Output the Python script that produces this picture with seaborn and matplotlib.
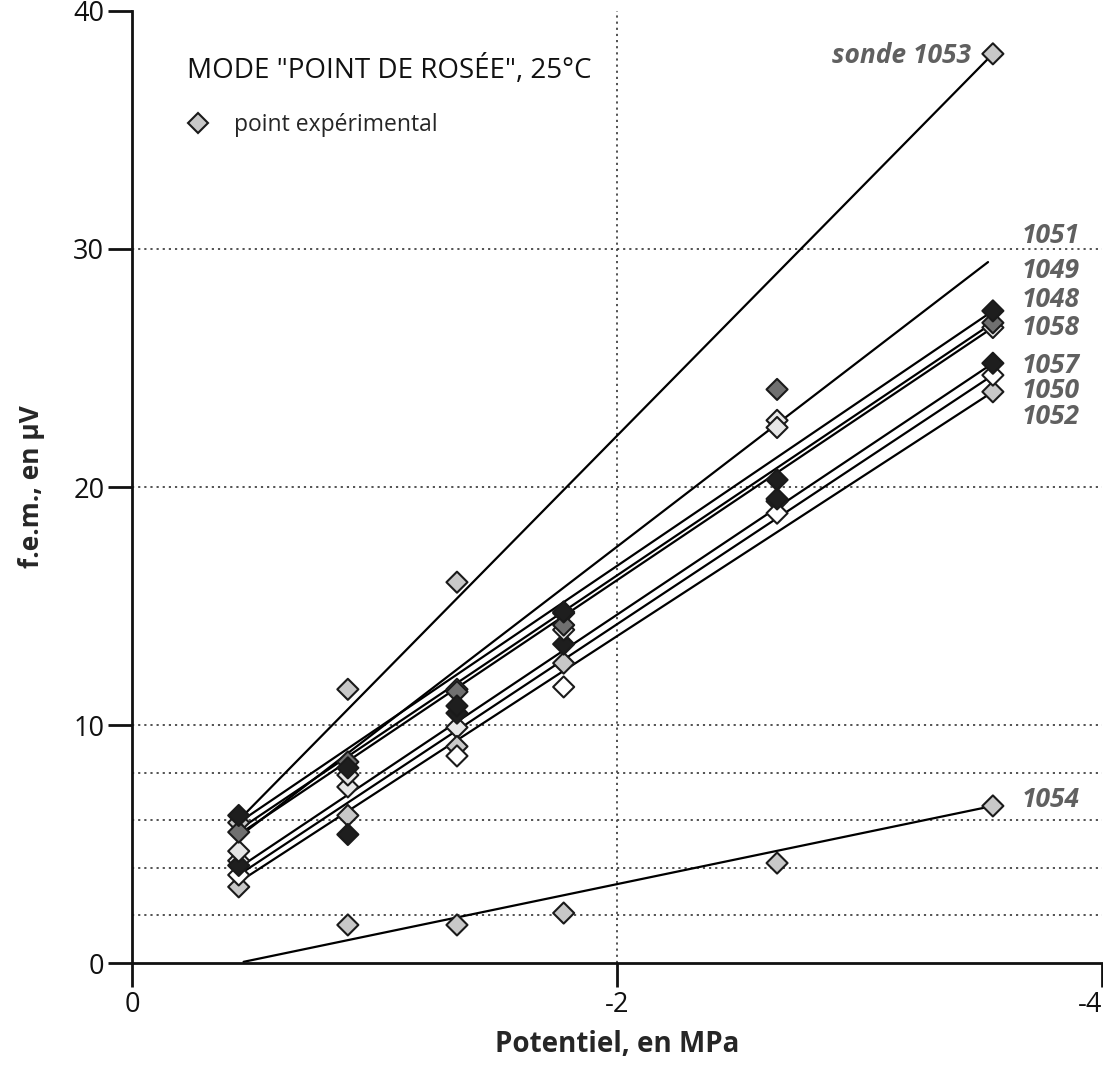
import numpy as np
import pandas as pd
import matplotlib
matplotlib.use("Agg")
import matplotlib.pyplot as plt
import seaborn as sns
from matplotlib.lines import Line2D

# Potential (MPa) at which each probe was measured
potentiel = [-0.44, -0.89, -1.34, -1.78, -2.66, -3.55]

# Probes, in drawing order
sondes = ["1053", "1051", "1052", "1050", "1057", "1058", "1049", "1048", "1054"]

# Measured e.m.f. (µV) per probe; nan = no reading
fem_1053 = [5.9, 11.5, 16.0, np.nan, np.nan, 38.2]
fem_1051 = [4.3, 7.4, 9.9, 14.7, 22.8, np.nan]
fem_1052 = [3.2, 6.2, 9.1, 12.6, 19.4, 24.0]
fem_1050 = [3.7, np.nan, 8.7, 11.6, 18.9, 24.7]
fem_1057 = [4.1, 5.4, 10.5, 13.4, 19.5, 25.2]
fem_1058 = [4.7, 7.9, 11.5, 14.0, 22.5, 26.7]
fem_1049 = [5.5, 8.45, 11.4, 14.2, 24.1, 26.9]
fem_1048 = [6.2, 8.2, 10.8, 14.75, 20.3, 27.4]
fem_1054 = [np.nan, 1.6, 1.6, 2.1, 4.2, 6.6]

# Calibration lines: end points (potential, e.m.f.) per probe
droite_x0 = [-0.44, -0.44, -0.44, -0.44, -0.44, -0.44, -0.44, -0.44, -0.46]
droite_x1 = [-3.55, -3.53, -3.55, -3.55, -3.55, -3.55, -3.55, -3.55, -3.55]
droite_y0 = [6.0, 5.3, 3.4, 3.7, 4.0, 5.4, 5.6, 5.9, 0.05]
droite_y1 = [38.2, 29.45, 24.0, 24.7, 25.2, 26.7, 26.9, 27.4, 6.6]

# Marker fill shade per probe
remplissage = ["#c8c8c8", "#e8e8e8", "#c8c8c8", "#ffffff", "#1e1e1e",
               "#e6e6e6", "#707070", "#1e1e1e", "#c8c8c8"]

# Probe labels at the right-hand end
etiquettes = ["sonde 1053", "1051", "1049", "1048", "1058", "1057", "1050", "1052", "1054"]
etiq_x = [-3.46, -3.67, -3.67, -3.67, -3.67, -3.67, -3.67, -3.67, -3.67]
etiq_y = [38.15, 30.55, 29.1, 27.86, 26.7, 25.1, 24.05, 22.95, 6.85]
etiq_ha = ["right"] + ["left"] * 8

mesures = {"1053": fem_1053, "1051": fem_1051, "1052": fem_1052, "1050": fem_1050,
           "1057": fem_1057, "1058": fem_1058, "1049": fem_1049, "1048": fem_1048,
           "1054": fem_1054}

points = pd.DataFrame(
    [(s, x, y) for s in sondes for x, y in zip(potentiel, mesures[s]) if not np.isnan(y)],
    columns=["sonde", "potentiel", "fem"],
)
droites = pd.DataFrame(
    [(s, x, y) for s, a, b, c, d in zip(sondes, droite_x0, droite_x1, droite_y0, droite_y1)
     for x, y in ((a, c), (b, d))],
    columns=["sonde", "potentiel", "fem"],
)

sns.set_theme(style="ticks")
plt.rcParams["font.family"] = ["Open Sans", "DejaVu Sans"]

fig = plt.figure(figsize=(11.03, 10.66), dpi=100)
ax = fig.add_axes([0.1197, 0.0966, 0.8794, 0.8931])

# dotted reference grid
for yv in [2, 4, 6, 8, 10, 20, 30]:
    ax.axhline(yv, color="#444444", lw=1.3, ls=(0, (1.2, 2.2)), zorder=0)
ax.axvline(-2, color="#444444", lw=1.3, ls=(0, (1.2, 2.2)), zorder=0)

sns.lineplot(data=droites, x="potentiel", y="fem", units="sonde", estimator=None,
             sort=False, color="black", lw=1.6, ax=ax, legend=False, zorder=2)

sns.scatterplot(data=points, x="potentiel", y="fem", hue="sonde",
                palette=dict(zip(sondes, remplissage)), hue_order=sondes,
                marker="D", s=115, edgecolor="#1a1a1a", linewidth=1.5,
                ax=ax, legend=False, zorder=3)

for txt, x, y, ha in zip(etiquettes, etiq_x, etiq_y, etiq_ha):
    ax.text(x, y, txt, ha=ha, va="center", fontsize=19, fontweight="bold",
            fontstyle="italic", color="#606060")

ax.text(0.0567, 0.938, 'MODE "POINT DE ROSÉE", 25°C', transform=ax.transAxes,
        ha="left", va="center", fontsize=20, color="#111111")

handle = Line2D([], [], marker="D", ls="none", markersize=10.5,
                markerfacecolor="#c8c8c8", markeredgecolor="#1a1a1a", markeredgewidth=1.5)
ax.legend([handle], ["point expérimental"], loc="center left",
          bbox_to_anchor=(0.044, 0.88), frameon=False, fontsize=16.5,
          handletextpad=1.0, handlelength=1.2, borderaxespad=0)

ax.set_xlim(0, -4)
ax.set_ylim(0, 40)
ax.set_xticks([0, -2, -4])
ax.set_xticklabels(["0", "-2", "-4"])
ax.set_yticks([0, 10, 20, 30, 40])
ax.set_yticklabels(["0", "10", "20", "30", "40"])
ax.tick_params(axis="both", labelsize=19.5, length=17, width=2, color="#111111",
               labelcolor="#111111", direction="out", pad=3)
ax.get_xticklabels()[-1].set_horizontalalignment("right")

for side in ["top", "right"]:
    ax.spines[side].set_visible(False)
for side in ["left", "bottom"]:
    ax.spines[side].set_linewidth(2)
    ax.spines[side].set_color("#111111")

ax.set_xlabel("Potentiel, en MPa", fontsize=20, fontweight="bold", labelpad=8)
ax.set_ylabel("f.e.m., en µV", fontsize=19, fontweight="bold", labelpad=20)

fig.savefig("out.png", dpi=100, facecolor="white")
